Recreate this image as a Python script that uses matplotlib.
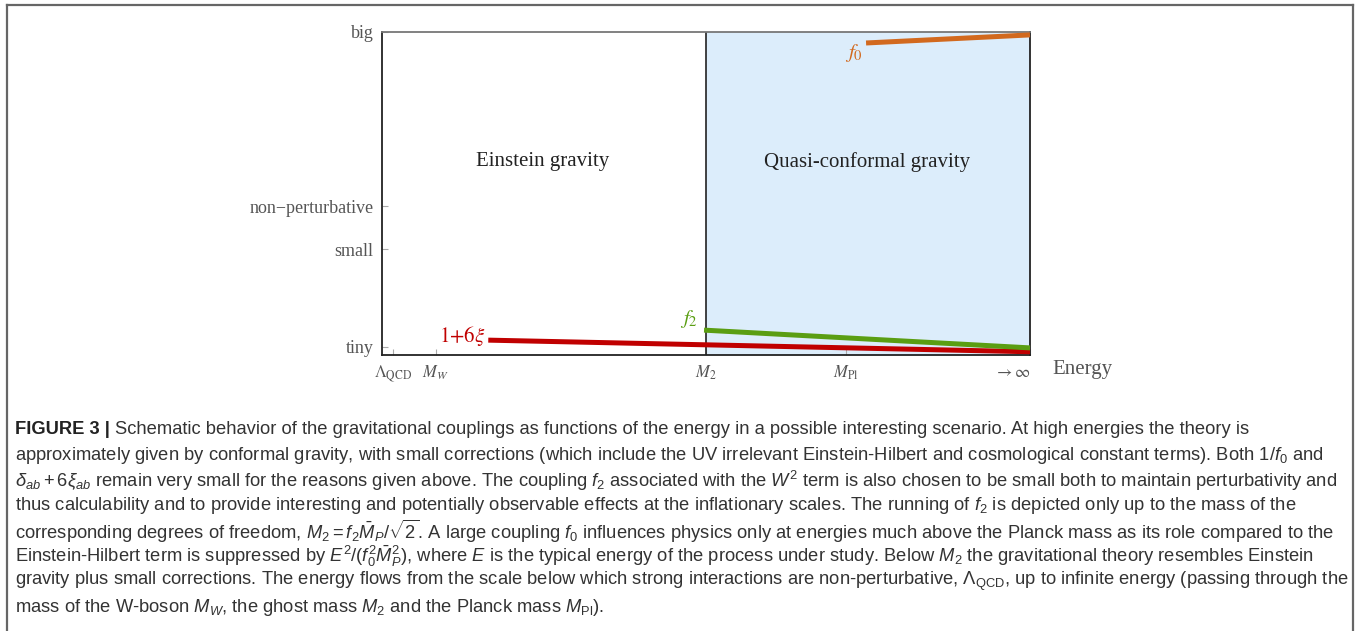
import matplotlib
matplotlib.use('Agg')
import matplotlib.pyplot as plt
from matplotlib.lines import Line2D

plt.rcParams['mathtext.fontset'] = 'custom'
plt.rcParams['mathtext.rm'] = 'Liberation Sans'
plt.rcParams['mathtext.it'] = 'Liberation Sans:italic'
plt.rcParams['mathtext.bf'] = 'Liberation Sans:bold'

# schematic axes: energy runs 0..1, coupling size runs 0..1
x_tick_pos = [0.017, 0.083, 0.5, 0.716, 1.0]
x_tick_labels = [r'$\Lambda_{\rm QCD}$', r'$M_W$', r'$M_2$', r'$M_{\rm Pl}$', r'$\to\infty$']
y_tick_pos = [0.025, 0.328, 0.461, 1.0]
y_tick_labels = ['tiny', 'small', 'non\u2212perturbative', 'big']

m2_pos = 0.5
xi_x = [0.164, 1.0]
xi_y = [0.046, 0.010]
f2_x = [0.497, 1.0]
f2_y = [0.077, 0.022]
f0_x = [0.747, 1.0]
f0_y = [0.966, 0.991]

caption_head = 'FIGURE 3 |'
caption_lines = [
    'Schematic behavior of the gravitational couplings as functions of the energy in a possible interesting scenario. At high energies the theory is',
    r'approximately given by conformal gravity, with small corrections (which include the UV irrelevant Einstein-Hilbert and cosmological constant terms). Both $1/f_0$ and',
    r'$\delta_{ab} + 6\xi_{ab}$ remain very small for the reasons given above. The coupling $f_2$ associated with the $W^2$ term is also chosen to be small both to maintain perturbativity and',
    r'thus calculability and to provide interesting and potentially observable effects at the inflationary scales. The running of $f_2$ is depicted only up to the mass of the',
    r'corresponding degrees of freedom, $M_2 = f_2\bar{M}_P/\sqrt{2}$. A large coupling $f_0$ influences physics only at energies much above the Planck mass as its role compared to the',
    r'Einstein-Hilbert term is suppressed by $E^2/(f_0^2\bar{M}_P^2)$, where $E$ is the typical energy of the process under study. Below $M_2$ the gravitational theory resembles Einstein',
    r'gravity plus small corrections. The energy flows from the scale below which strong interactions are non-perturbative, $\Lambda_{\rm QCD}$, up to infinite energy (passing through the',
    r'mass of the W-boson $M_W$, the ghost mass $M_2$ and the Planck mass $M_{\rm Pl}$).',
]

W, H = 1361, 631
fig = plt.figure(figsize=(W / 100, H / 100), dpi=100)

# outer frame (open at the bottom)
frame_col = '#666666'
fig.add_artist(Line2D([7 / W, 1353 / W], [1 - 4.5 / H, 1 - 4.5 / H], color=frame_col, lw=1.6))
fig.add_artist(Line2D([7 / W, 7 / W], [0, 1 - 4.5 / H], color=frame_col, lw=1.6))
fig.add_artist(Line2D([1353 / W, 1353 / W], [0, 1 - 4.5 / H], color=frame_col, lw=1.6))

ax = fig.add_axes([382 / W, 1 - 355 / H, 648 / W, 323 / H])
ax.set_xlim(0, 1)
ax.set_ylim(0, 1)
ax.axvspan(m2_pos, 1.0, color='#dcedfb', lw=0, zorder=0)
ax.axvline(m2_pos, color='#222222', lw=1.2, zorder=2)

ax.plot(xi_x, xi_y, color='#c00000', lw=3.6, solid_capstyle='butt', zorder=3, clip_on=False)
ax.plot(f2_x, f2_y, color='#5a9e12', lw=3.6, solid_capstyle='butt', zorder=3, clip_on=False)
ax.plot(f0_x, f0_y, color='#d2691e', lw=3.6, solid_capstyle='butt', zorder=3, clip_on=False)

ax.text(0.159, 0.058, r'$1{+}6\xi$', color='#c00000', fontsize=15, ha='right', va='center',
        math_fontfamily='stix')
ax.text(0.488, 0.11, r'$f_2$', color='#5a9e12', fontsize=15, ha='right', va='center',
        math_fontfamily='stix')
ax.text(0.742, 0.935, r'$f_0$', color='#d2691e', fontsize=15, ha='right', va='center',
        math_fontfamily='stix')

ax.text(0.248, 0.598, 'Einstein gravity', family='Liberation Serif', fontsize=15,
        color='#222222', ha='center', va='center')
ax.text(0.748, 0.598, 'Quasi-conformal gravity', family='Liberation Serif', fontsize=15,
        color='#222222', ha='center', va='center')
ax.text(1.034, -0.046, 'Energy', family='Liberation Serif', fontsize=15,
        color='#555555', ha='left', va='center', transform=ax.transAxes)

ax.set_xticks(x_tick_pos)
ax.set_xticklabels(x_tick_labels, math_fontfamily='stix', fontsize=12, color='#555555')
ax.get_xticklabels()[-1].set_horizontalalignment('right')
ax.set_yticks(y_tick_pos)
ax.set_yticklabels(y_tick_labels, family='Liberation Serif', fontsize=13, color='#555555')
ax.tick_params(direction='in', length=4, width=0.8, color='#aaaaaa', pad=6)

for side in ['left', 'bottom', 'right']:
    ax.spines[side].set_color('#222222')
    ax.spines[side].set_linewidth(1.3)
ax.spines['top'].set_color('#777777')
ax.spines['top'].set_linewidth(1.3)

# caption, one text per printed line
cap_x = 15 / W
cap_y0 = 430
cap_step = 25.3
cap_col = '#333333'
fs = 12.5
fig.canvas.draw()
r = fig.canvas.get_renderer()
probe = fig.text(cap_x, 0.5, caption_lines[2], fontsize=fs, family='Liberation Sans')
wpx = probe.get_window_extent(r).width
probe.remove()
fs = fs * (1336 - 15) / wpx

head = fig.text(cap_x, 1 - cap_y0 / H, caption_head, fontsize=fs, family='Liberation Sans',
                weight='bold', color='#222222', va='center')
hw = head.get_window_extent(r).width
for i, line in enumerate(caption_lines):
    x0 = cap_x + ((hw + 5) / W if i == 0 else 0)
    fig.text(x0, 1 - (cap_y0 + i * cap_step) / H, line, fontsize=fs,
             family='Liberation Sans', color=cap_col, va='center')

fig.savefig('out.png', dpi=100)
